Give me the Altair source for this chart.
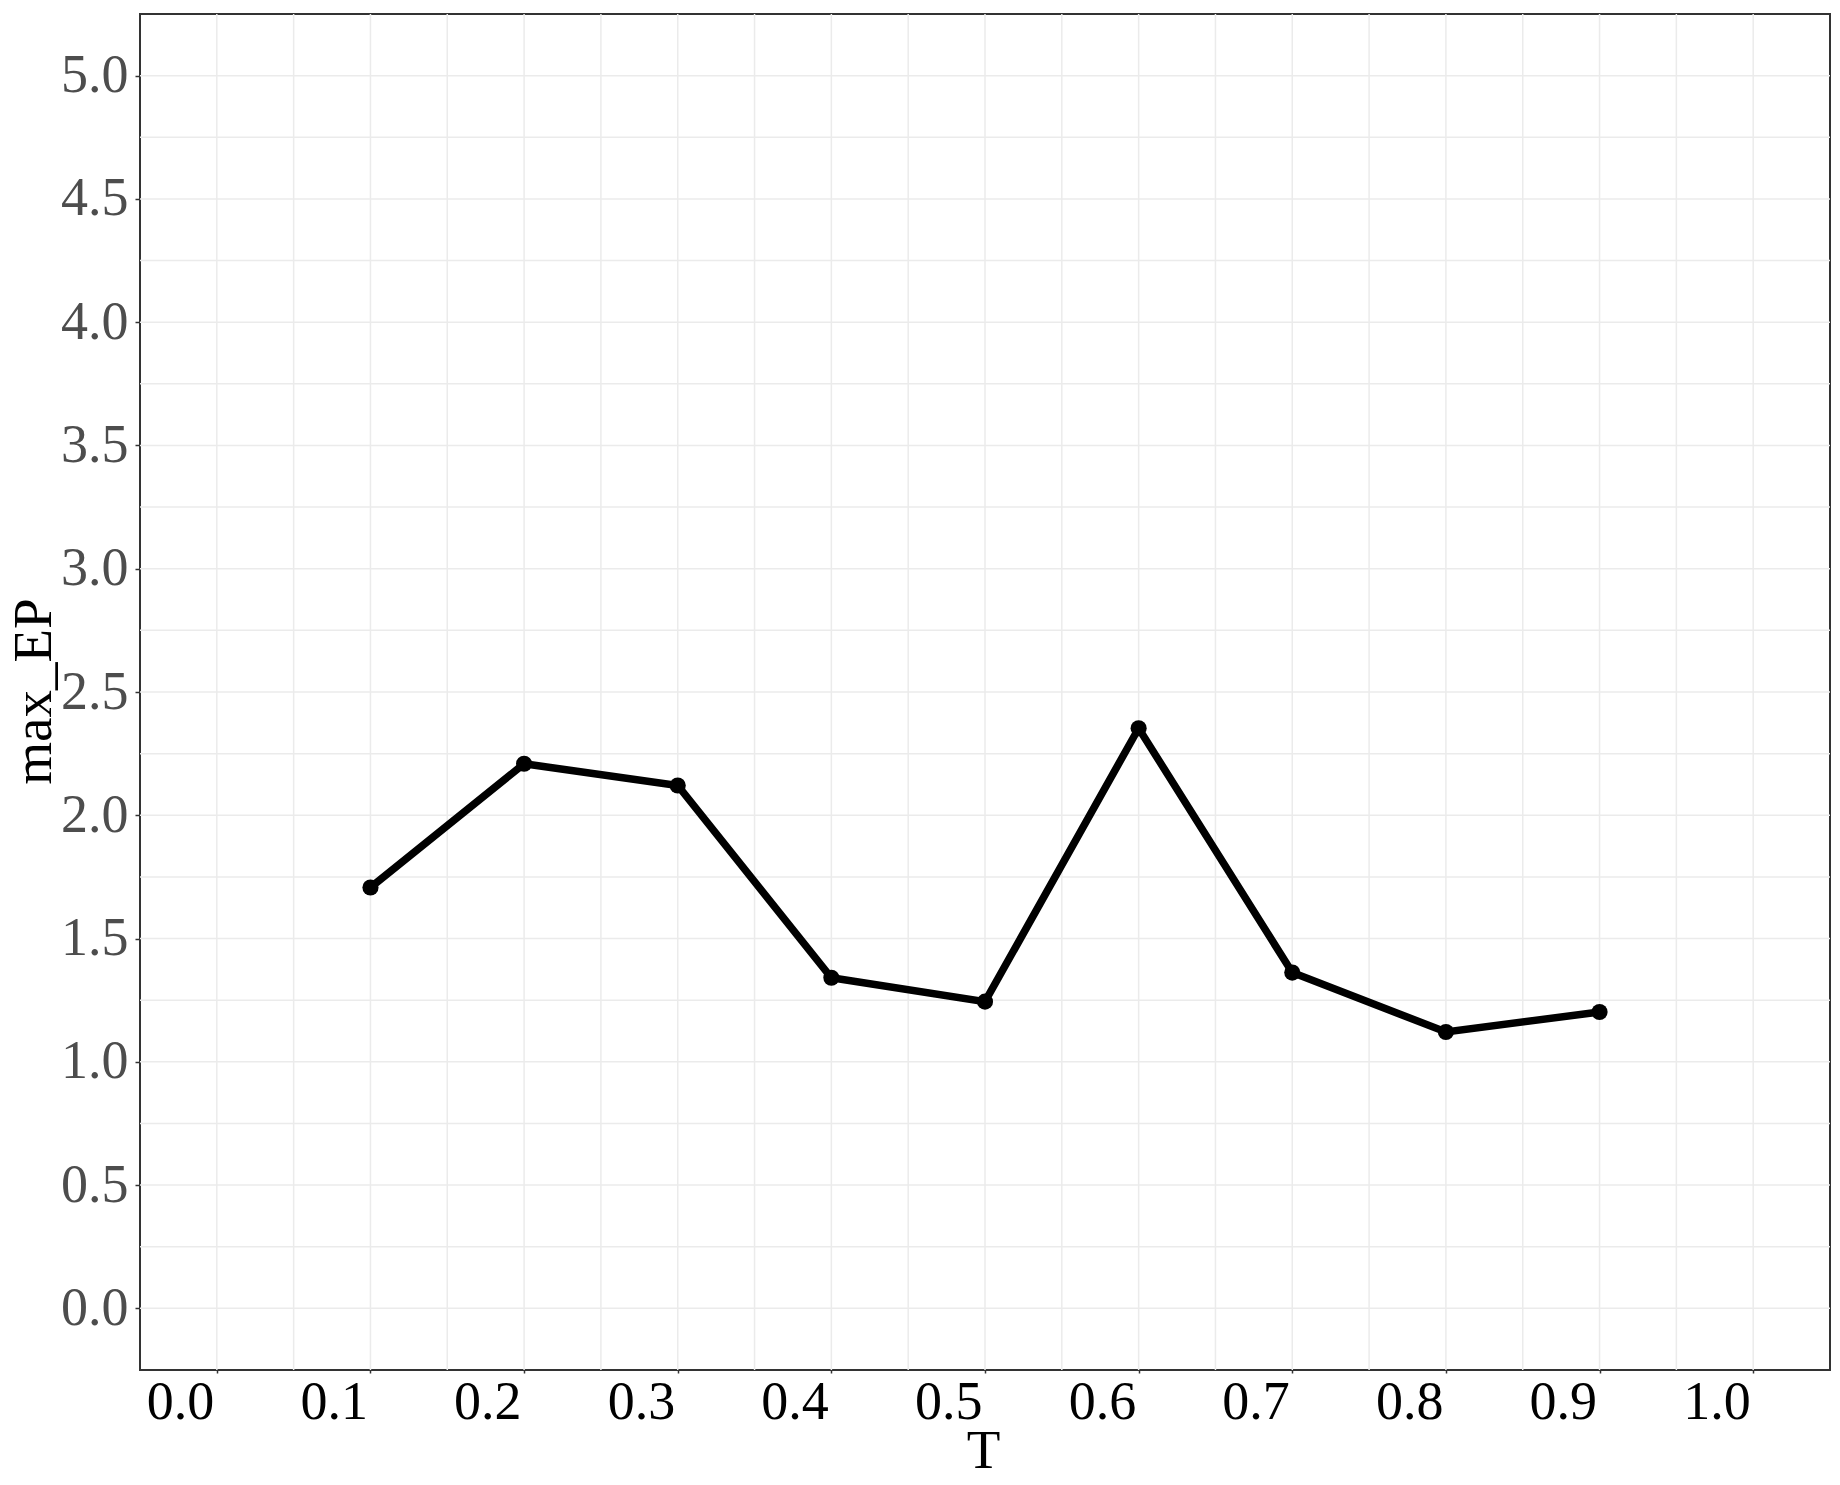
import altair as alt
import pandas as pd

# data
t_vals = [0.1, 0.2, 0.3, 0.4, 0.5, 0.6, 0.7, 0.8, 0.9]
max_ep = [1.707, 2.209, 2.121, 1.341, 1.244, 2.353, 1.362, 1.121, 1.202]

x_ticks = [0.0, 0.1, 0.2, 0.3, 0.4, 0.5, 0.6, 0.7, 0.8, 0.9, 1.0]
y_ticks = [0.0, 0.5, 1.0, 1.5, 2.0, 2.5, 3.0, 3.5, 4.0, 4.5, 5.0]
x_grid = [0.0, 0.05, 0.1, 0.15, 0.2, 0.25, 0.3, 0.35, 0.4, 0.45, 0.5,
          0.55, 0.6, 0.65, 0.7, 0.75, 0.8, 0.85, 0.9, 0.95, 1.0]
y_grid = [0.0, 0.25, 0.5, 0.75, 1.0, 1.25, 1.5, 1.75, 2.0, 2.25, 2.5,
          2.75, 3.0, 3.25, 3.5, 3.75, 4.0, 4.25, 4.5, 4.75, 5.0]

df = pd.DataFrame({"T": t_vals, "max_EP": max_ep})
gx = pd.DataFrame({"T": x_grid})
gy = pd.DataFrame({"max_EP": y_grid})

FONT = "Liberation Serif"
xscale = alt.Scale(domain=[-0.05, 1.05], nice=False, zero=False)
yscale = alt.Scale(domain=[-0.25, 5.25], nice=False, zero=False)

xaxis = alt.Axis(
    values=x_ticks, format=".1f", grid=False, domain=False,
    labelFont=FONT, labelFontSize=54, labelColor="black",
    labelAlign="right", labelBaseline="top", labelOffset=-3, labelPadding=2,
    tickSize=3, tickColor="#333333", tickWidth=1.5,
    title="T", titleFont=FONT, titleFontSize=55, titleFontWeight="normal",
    titleColor="black", titleX=843, titleY=97, titleBaseline="alphabetic",
    titleAlign="center", labelOverlap=False, labelFlush=False,
)
yaxis = alt.Axis(
    values=y_ticks, format=".1f", grid=False, domain=False,
    labelFont=FONT, labelFontSize=54, labelColor="#4D4D4D",
    labelPadding=7, tickSize=5, tickColor="#333333", tickWidth=1.5,
    title="max_EP", titleFont=FONT, titleFontSize=55, titleFontWeight="normal",
    titleColor="black", titleX=-90, titleY=677, titleBaseline="alphabetic",
    titleAlign="center", labelOverlap=False, labelFlush=False,
)

X = alt.X("T:Q", scale=xscale, axis=xaxis)
Y = alt.Y("max_EP:Q", scale=yscale, axis=yaxis)

vgrid = alt.Chart(gx).mark_rule(color="#EBEBEB", strokeWidth=1.5).encode(x=X)
hgrid = alt.Chart(gy).mark_rule(color="#EBEBEB", strokeWidth=1.5).encode(y=Y)

line = alt.Chart(df).mark_line(color="black", strokeWidth=7.5).encode(x=X, y=Y)
pts = alt.Chart(df).mark_point(filled=True, color="black", size=260, opacity=1).encode(x=X, y=Y)

chart = alt.layer(vgrid, hgrid, line, pts).properties(
    width=1690, height=1356,
    autosize=alt.AutoSizeParams(type="none"),
    padding={"left": 132, "top": 6, "right": 2, "bottom": 107},
    background="white",
).configure_view(stroke="#333333", strokeWidth=2)

chart.save("out.html", embed_options={"renderer": "svg", "actions": False})
